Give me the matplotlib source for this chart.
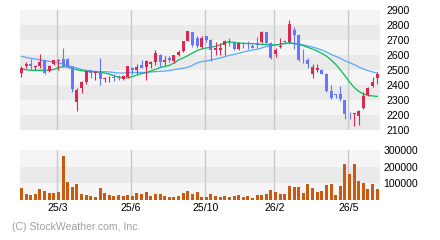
import matplotlib
matplotlib.use("Agg")
import matplotlib.pyplot as plt
import numpy as np

plt.rcParams['font.family'] = ['Liberation Sans', 'DejaVu Sans']

# weekly candles, oldest first
opens = [2478, 2524, 2538, 2522, 2524, 2564, 2496, 2538, 2562, 2571,
         2571, 2520, 2289, 2378, 2418, 2498, 2478, 2493, 2442, 2444,
         2453, 2449, 2440, 2453, 2516, 2498, 2533, 2520, 2542, 2551,
         2602, 2551, 2578, 2560, 2600, 2629, 2696, 2751, 2711, 2651,
         2724, 2698, 2631, 2633, 2669, 2696, 2687, 2642, 2676, 2669,
         2662, 2682, 2684, 2751, 2680, 2609, 2656, 2691, 2684, 2764,
         2733, 2580, 2569, 2476, 2498, 2502, 2473, 2360, 2336, 2338,
         2298, 2216, 2207, 2193, 2244, 2333, 2396, 2444]
highs = [2529, 2556, 2573, 2533, 2604, 2567, 2533, 2569, 2571, 2644,
         2578, 2529, 2378, 2427, 2502, 2502, 2493, 2578, 2451, 2458,
         2471, 2467, 2467, 2529, 2520, 2538, 2567, 2567, 2560, 2636,
         2607, 2593, 2593, 2600, 2631, 2696, 2760, 2756, 2729, 2724,
         2729, 2707, 2689, 2678, 2698, 2716, 2696, 2689, 2689, 2696,
         2671, 2718, 2760, 2756, 2684, 2644, 2716, 2700, 2831, 2787,
         2738, 2640, 2582, 2538, 2542, 2507, 2478, 2400, 2338, 2393,
         2302, 2222, 2213, 2233, 2351, 2387, 2456, 2484]
lows = [2451, 2511, 2498, 2498, 2516, 2473, 2484, 2533, 2502, 2522,
        2516, 2351, 2227, 2349, 2404, 2449, 2436, 2400, 2418, 2418,
        2427, 2433, 2436, 2449, 2476, 2476, 2511, 2433, 2511, 2533,
        2522, 2533, 2556, 2544, 2593, 2622, 2691, 2653, 2644, 2644,
        2689, 2560, 2600, 2600, 2600, 2662, 2633, 2631, 2649, 2640,
        2644, 2649, 2680, 2676, 2573, 2587, 2644, 2676, 2680, 2640,
        2560, 2544, 2511, 2449, 2489, 2471, 2356, 2307, 2311, 2293,
        2173, 2173, 2127, 2133, 2240, 2324, 2387, 2409]
closes = [2511, 2538, 2524, 2526, 2551, 2478, 2524, 2564, 2569, 2529,
          2520, 2373, 2364, 2418, 2493, 2478, 2489, 2440, 2444, 2449,
          2444, 2447, 2458, 2524, 2498, 2518, 2516, 2560, 2551, 2611,
          2551, 2567, 2567, 2598, 2622, 2691, 2758, 2667, 2660, 2711,
          2698, 2633, 2644, 2649, 2696, 2689, 2640, 2682, 2671, 2664,
          2649, 2667, 2751, 2680, 2578, 2636, 2662, 2687, 2809, 2733,
          2567, 2578, 2542, 2518, 2513, 2476, 2360, 2316, 2333, 2307,
          2209, 2211, 2211, 2229, 2329, 2378, 2418, 2476]
volumes = [72000, 36000, 30000, 36000, 66000, 54000, 42000, 42000, 48000, 264000,
           108000, 78000, 96000, 36000, 30000, 24000, 18000, 72000, 42000, 30000,
           24000, 30000, 24000, 30000, 24000, 42000, 36000, 48000, 24000, 36000,
           36000, 24000, 18000, 18000, 24000, 42000, 54000, 36000, 48000, 18000,
           18000, 36000, 24000, 18000, 24000, 18000, 24000, 30000, 18000, 24000,
           12000, 30000, 30000, 36000, 60000, 48000, 36000, 36000, 84000, 78000,
           78000, 42000, 96000, 72000, 48000, 54000, 90000, 96000, 30000, 84000,
           216000, 156000, 216000, 114000, 102000, 66000, 96000, 66000]
# moving averages
ma_short = [2507, 2502, 2498, 2498, 2498, 2498, 2498, 2504, 2516, 2522,
            2520, 2511, 2502, 2496, 2491, 2489, 2487, 2484, 2480, 2473,
            2462, 2453, 2447, 2447, 2456, 2467, 2476, 2482, 2493, 2504,
            2516, 2524, 2531, 2547, 2567, 2580, 2596, 2613, 2629, 2640,
            2647, 2651, 2658, 2667, 2682, 2687, 2684, 2680, 2678, 2676,
            2676, 2673, 2671, 2669, 2667, 2667, 2671, 2678, 2680, 2676,
            2671, 2662, 2651, 2640, 2627, 2611, 2593, 2567, 2538, 2502,
            2462, 2420, 2384, 2358, 2340, 2331, 2327, 2324]
ma_long = [2591, 2584, 2578, 2573, 2567, 2562, 2558, 2553, 2547, 2540,
           2531, 2522, 2513, 2504, 2498, 2493, 2491, 2489, 2489, 2487,
           2484, 2480, 2480, 2482, 2484, 2484, 2484, 2484, 2487, 2489,
           2491, 2493, 2496, 2502, 2507, 2511, 2518, 2531, 2547, 2556,
           2560, 2567, 2573, 2580, 2589, 2598, 2604, 2611, 2620, 2627,
           2633, 2638, 2647, 2656, 2662, 2667, 2671, 2676, 2680, 2678,
           2673, 2667, 2660, 2653, 2644, 2633, 2620, 2604, 2591, 2578,
           2562, 2549, 2536, 2520, 2507, 2496, 2487, 2480]
month_labels = ['25/3', '25/6', '25/10', '26/2', '26/5']
month_bars = [8, 24, 40, 55, 71]

LIGHT = '#f5f5f5'
DARK = '#eaeaea'
UP = '#dc2850'
DOWN = '#6478ff'

x = np.arange(len(opens))
o = np.array(opens)
c = np.array(closes)
col = [UP if cc >= oo else DOWN for oo, cc in zip(o, c)]

fig = plt.figure(figsize=(4.4, 2.4), dpi=100)
ax = fig.add_axes([20/440, 1-130/240, 360/440, 120/240])
axv = fig.add_axes([20/440, 1-200/240, 360/440, 50/240])

xlim = (-0.32, 77.6)
grid_x = [b - 0.25 for b in month_bars]

# price panel
ax.set_facecolor(LIGHT)
for lo in [2100, 2300, 2500, 2700]:
    ax.axhspan(lo, lo + 100, color=DARK, lw=0, zorder=0)
for gx in grid_x:
    ax.axvline(gx, color='#c8c8c8', lw=1.0, zorder=1)
ax.plot(x, ma_long, color='#5aa8ff', lw=0.9, zorder=2)
ax.plot(x, ma_short, color='#00c050', lw=0.9, zorder=2)
ax.vlines(x, lows, highs, colors=col, lw=0.8, zorder=3)
body_h = np.maximum(np.abs(c - o), 5)
ax.bar(x, body_h, bottom=np.minimum(o, c), width=0.65, color=col, lw=0, zorder=4)
ax.set_xlim(*xlim)
ax.set_ylim(2100, 2900)
ax.set_yticks(range(2100, 3000, 100))
ax.yaxis.tick_right()
ax.tick_params(axis='y', length=0, pad=4.5, labelsize=7.6)
ax.set_xticks([])
for s in ax.spines.values():
    s.set_visible(False)

# volume panel
axv.set_facecolor(LIGHT)
axv.axhspan(100000, 200000, color=DARK, lw=0, zorder=0)
for gx in grid_x:
    axv.axvline(gx, color='#c8c8c8', lw=1.0, zorder=1)
axv.bar(x, volumes, width=0.65, color='#c85a12', lw=0, zorder=2)
axv.set_xlim(*xlim)
axv.set_ylim(0, 300000)
axv.set_yticks([100000, 200000, 300000])
axv.yaxis.tick_right()
axv.tick_params(axis='y', length=0, pad=2.5, labelsize=7.6)
axv.set_xticks(grid_x)
axv.set_xticklabels(month_labels)
axv.tick_params(axis='x', length=0, pad=2, labelsize=7.6)
for s in axv.spines.values():
    s.set_visible(False)

fig.text(12/440, 1-227/240, '(C) StockWeather.com, Inc.', color='#a0a0a0',
         fontsize=7.6, va='center', ha='left')

fig.savefig('out.png', dpi=100)
